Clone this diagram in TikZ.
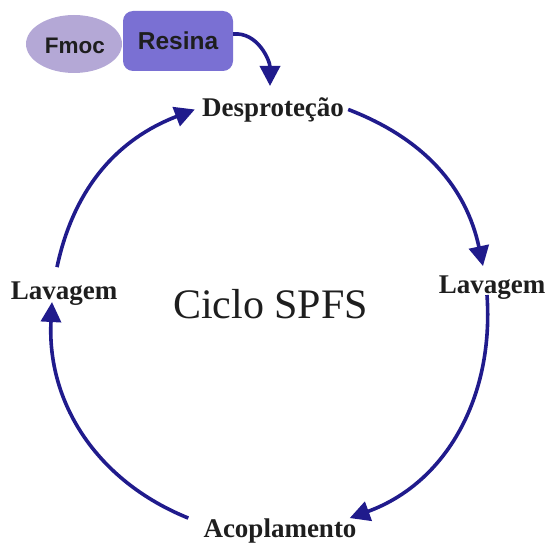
\documentclass[tikz,border=0pt]{standalone}
\usepackage{fontspec}
\setmainfont{Liberation Serif}
\newfontfamily\boxfont{Liberation Sans}
\usetikzlibrary{arrows.meta,shapes.geometric}
\definecolor{navy}{HTML}{201B8C}
\definecolor{fmoccol}{HTML}{B4A8D6}
\definecolor{resincol}{HTML}{7A70D3}
\definecolor{txt}{HTML}{1E1E1E}
\tikzset{
  lbl/.style={inner sep=0pt, anchor=base, text=txt, font=\fontsize{27}{30}\selectfont\bfseries},
  arr/.style={draw=navy, line width=3.6pt, -{Triangle[length=20pt,width=20pt]}},
  boxtxt/.style={text=txt, inner sep=0pt, anchor=base, font=\boxfont\bfseries}
}
\begin{document}
\begin{tikzpicture}[x=1pt,y=1pt]
\useasboundingbox (0,0) rectangle (546,-543);
% Fmoc + Resina
\node[ellipse, fill=fmoccol, minimum width=96pt, minimum height=58pt, inner sep=0pt] (fmoc) at (74,-44) {};
\node[boxtxt, font=\boxfont\bfseries\fontsize{22.5}{26}\selectfont] (fmoct) at (75,-53) {Fmoc};
\node[fill=resincol, rounded corners=10pt, minimum width=110pt, minimum height=60pt, inner sep=0pt] (resina) at (178,-41) {};
\node[boxtxt, font=\boxfont\bfseries\fontsize{24.5}{28}\selectfont] (resinat) at (178,-49) {Resina};
% labels
\node[lbl] (desp) at (273,-116) {Desproteção};
\node[lbl] (lavR) at (492,-293) {Lavagem};
\node[lbl] (lavL) at (64,-299) {Lavagem};
\node[lbl] (acop) at (280,-537) {Acoplamento};
\node[inner sep=0pt, anchor=base, text=txt, font=\fontsize{42}{47}\selectfont] (ciclo) at (270.5,-318) {Ciclo SPFS};
% arrows
\draw[arr] (resina.east |- 0,-34) to[out=5,in=90] (270,-86);
\draw[arr] ([xshift=4pt]desp.east) to[out=-21,in=102] ([xshift=-9pt,yshift=9pt]lavR.north);
\draw[arr] ([xshift=-5pt,yshift=-2pt]lavR.base) to[out=-86,in=20] ([xshift=-7pt]acop.north east);
\draw[arr] ([xshift=-15pt]acop.north west) to[out=158,in=-93] ([xshift=-12pt,yshift=-3pt]lavL.base);
\draw[arr] ([xshift=-7pt,yshift=14pt]lavL.north) to[out=78,in=201] ([xshift=-7pt]desp.west);
\end{tikzpicture}
\end{document}
